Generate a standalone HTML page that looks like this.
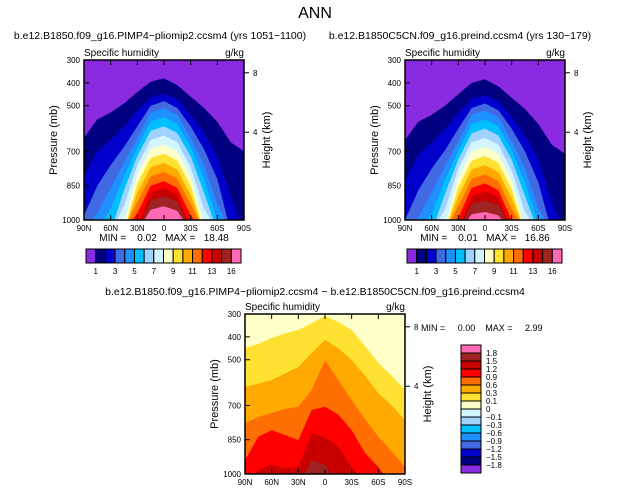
<!DOCTYPE html>
<html><head><meta charset="utf-8"><style>
body{margin:0;background:#fff}
svg{display:block;font-family:"Liberation Sans",sans-serif}
.pre{white-space:pre}
</style></head><body>
<svg id="s" width="631" height="493" viewBox="0 0 631 493">
<text x="315" y="18" font-size="16" text-anchor="middle">ANN</text>
</svg>
<script>
const lats=[90,75,60,45,30,15,0,-15,-30,-45,-60,-75,-90];
const latTicks=[90,60,30,0,-30,-60,-90];
const latTickLabels=["90N","60N","30N","0","30S","60S","90S"];
const pTicks=[300,400,500,700,850,1000];
const hTicks=[{km:8,p:356},{km:4,p:616}];
const topColors=["#8a2be2","#000080","#0000cd","#4169e1","#1e90ff","#00bfff","#a0d2ff","#d2f5ff","#ffffc8","#ffe132","#ffaa00","#ff6e00","#ff0000","#c80000","#a02323","#ff69b4"];
const topLabels=["1","3","5","7","9","11","13","16"];
const W=1050;
const leftLevels=[
[640,560,530,490,440,395,380,410,460,510,570,660,700],
[810,700,650,590,520,462,447,470,540,620,720,900,W],
[980,850,760,680,590,500,480,510,590,690,820,W,W],
[W,970,860,750,640,530,510,540,640,760,930,W,W],
[W,W,950,810,680,570,550,580,680,820,1000,W,W],
[W,W,W,870,720,610,590,620,720,880,W,W,W],
[W,W,W,940,760,650,630,660,770,950,W,W,W],
[W,W,W,1010,800,690,670,700,810,1020,W,W,W],
[W,W,W,W,840,730,710,740,850,W,W,W,W],
[W,W,W,W,880,770,750,780,890,W,W,W,W],
[W,W,W,W,920,810,790,820,930,W,W,W,W],
[W,W,W,W,970,850,830,860,980,W,W,W,W],
[W,W,W,W,1030,880,860,890,1040,W,W,W,W],
[W,W,W,W,W,915,895,920,W,W,W,W,W],
[W,W,W,W,W,955,940,960,W,W,W,W,W]];
const rightLevels=[
[650,570,540,500,450,400,385,415,465,515,580,670,710],
[830,715,665,600,530,470,455,480,550,630,735,920,W],
[1000,870,775,695,600,510,490,520,600,700,835,W,W],
[W,990,880,765,655,540,520,550,655,775,950,W,W],
[W,W,970,825,695,580,560,590,695,835,1020,W,W],
[W,W,W,885,735,620,600,630,735,895,W,W,W],
[W,W,W,955,775,660,640,670,785,965,W,W,W],
[W,W,W,1030,815,700,680,710,825,1040,W,W,W],
[W,W,W,W,855,740,720,750,865,W,W,W,W],
[W,W,W,W,895,780,760,790,905,W,W,W,W],
[W,W,W,W,940,820,800,830,950,W,W,W,W],
[W,W,W,W,990,860,840,870,1000,W,W,W,W],
[W,W,W,W,W,895,875,900,W,W,W,W,W],
[W,W,W,W,W,930,915,935,W,W,W,W,W],
[W,W,W,W,W,975,965,980,W,W,W,W,W]];
const diffColors=["#ffffc8","#ffe132","#ffaa00","#ff6e00","#ff0000","#c80000","#a02323"];
const diffLevels=[
[449,430,405,385,370,340,309,335,370,440,514,570,632],
[619,605,589,560,532,470,414,450,501,570,646,700,764],
[777,750,733,715,706,632,501,590,676,760,837,900,969],
[939,837,808,830,851,720,706,740,808,908,969,W,W],
[W,982,960,975,969,822,840,882,970,W,W,W,W],
[W,W,W,W,W,939,960,W,W,W,W,W,W]];
const barColorsV=["#ff69b4","#a02323","#c80000","#ff0000","#ff6e00","#ffaa00","#ffe132","#ffffc8","#d2f5ff","#a0d2ff","#00bfff","#1e90ff","#4169e1","#0000cd","#000080","#8a2be2"];
const barLabelsV=["1.8","1.5","1.2","0.9","0.6","0.3","0.1","0","\u22120.1","\u22120.3","\u22120.6","\u22120.9","\u22121.2","\u22121.5","\u22121.8"];

const NS="http://www.w3.org/2000/svg";
const svg=document.getElementById('s');
function mk(tag,attrs,parent){const e=document.createElementNS(NS,tag);for(const k in attrs)e.setAttribute(k,attrs[k]);(parent||svg).appendChild(e);return e;}
function txt(x,y,s,size,anchor,parent){const t=mk('text',{x:x,y:y,'font-size':size,'text-anchor':anchor||'start'},parent);t.textContent=s;return t;}

function panel(id,x0,y0,levels,colors,base,title,tx,minmax){
  const w=160,h=160;
  const xs=l=>x0+(90-l)/180*w;
  const ys=p=>y0+(p-300)/700*h;
  const g=mk('g',{});
  
  
  const cp=mk('clipPath',{id:id+'-clip'},g);
  mk('rect',{x:x0,y:y0,width:w,height:h},cp);
  const fg=mk('g',{'clip-path':'url(#'+id+'-clip)'},g);
  const bg=mk('rect',{x:x0,y:y0,width:w,height:h,fill:base},fg);
  
  
  levels.forEach((arr,i)=>{
    let pts=lats.map((l,j)=>xs(l)+','+ys(Math.min(arr[j],1050))).join(' ');
    pts+=' '+xs(-90)+','+ys(1050)+' '+xs(90)+','+ys(1050);
    const poly=mk('polygon',{points:pts,fill:colors[Math.min(i,colors.length-1)]},fg);
    
    
  });
  mk('rect',{x:x0,y:y0,width:w,height:h,fill:'none',stroke:'#000','stroke-width':1.5},g);
  latTicks.forEach((l,i)=>{
    mk('line',{x1:xs(l),x2:xs(l),y1:y0+h,y2:y0+h-5,stroke:'#000'},g);
    mk('line',{x1:xs(l),x2:xs(l),y1:y0,y2:y0+5,stroke:'#000'},g);
    const t=txt(xs(l),y0+h+11,latTickLabels[i],8,'middle',g);
    
    
  });
  pTicks.forEach(p=>{
    mk('line',{x1:x0,x2:x0+5,y1:ys(p),y2:ys(p),stroke:'#000'},g);
    const t=txt(x0-4,ys(p)+3,String(p),8,'end',g);
    
    
  });
  hTicks.forEach(o=>{
    mk('line',{x1:x0+w,x2:x0+w+5,y1:ys(o.p),y2:ys(o.p),stroke:'#000'},g);
    const t=txt(x0+w+9,ys(o.p)+3,String(o.km),8,'start',g);
    
    
  });
  const yt=txt(0,0,'Pressure (mb)',11,'middle',g);
  yt.setAttribute('transform','translate('+(x0-27)+','+(y0+h/2)+') rotate(-90)');
  
  
  const ht=txt(0,0,'Height (km)',11,'middle',g);
  ht.setAttribute('transform','translate('+(x0+w+26)+','+(y0+h/2)+') rotate(-90)');
  
  
  const s1=txt(x0,y0-4,'Specific humidity',10,'start',g);
  
  
  const s2=txt(x0+w,y0-4,'g/kg',10,'end',g);
  
  
  if(title){const t=txt(tx,y0-21,title,10.5,'middle',g);
    
    }
  if(minmax){const t=txt(x0+w/2,y0+h+21,minmax,10,'middle',g);
    t.setAttribute('class','pre');
    
    }
  return g;
}
function hbar(id,x0,y0){
  const bw=155/16;
  const g=mk('g',{});
  
  
  topColors.forEach((c,i)=>{
    const r=mk('rect',{x:x0+i*bw,y:y0,width:bw,height:14,fill:c,stroke:'#000','stroke-width':1},g);
    
    
  });
  topLabels.forEach((s,i)=>{
    const b=i<7?1+2*i:15;
    const t=txt(x0+b*bw,y0+25,s,8,'middle',g);
    
    
  });
}
panel('panel-pliomip',84,60,leftLevels,topColors.slice(1),topColors[0],'b.e12.B1850.f09_g16.PIMP4\u2212pliomip2.ccsm4 (yrs 1051\u22121100)',160,'MIN =    0.02   MAX =   18.48');
panel('panel-preind',405,60,rightLevels,topColors.slice(1),topColors[0],'b.e12.B1850C5CN.f09_g16.preind.ccsm4 (yrs 130\u2212179)',460,'MIN =    0.01   MAX =   16.86');
hbar('colorbar-left',86,249);
hbar('colorbar-right',407,249);
panel('panel-difference',245,314,diffLevels,diffColors.slice(1),diffColors[0],null,0,null);
const dt=txt(315,295,'b.e12.B1850.f09_g16.PIMP4\u2212pliomip2.ccsm4 \u2212 b.e12.B1850C5CN.f09_g16.preind.ccsm4',10.5,'middle');


const mm=txt(421,331,'MIN =     0.00    MAX =     2.99',9,'start');
mm.setAttribute('class','pre');


const vg=mk('g',{});


barColorsV.forEach((c,i)=>{
  const r=mk('rect',{x:461,y:345+i*8,width:20,height:8,fill:c,stroke:'#000','stroke-width':1},vg);
  
  
});
barLabelsV.forEach((s,i)=>{
  const t=txt(486,356+i*8,s,8,'start',vg);
  
  
});
</script>
</body></html>
